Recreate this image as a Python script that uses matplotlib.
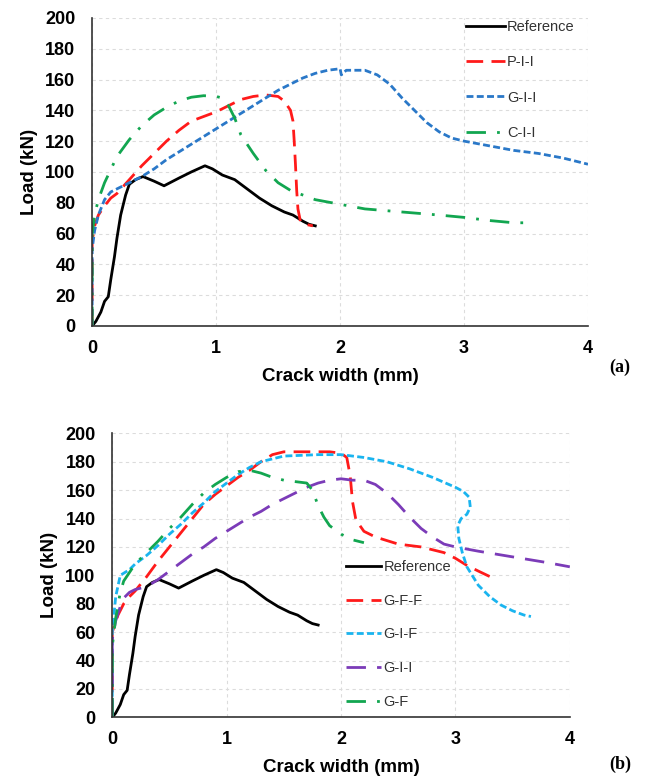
import matplotlib.pyplot as plt

plt.rcParams['font.family'] = ['Liberation Sans', 'DejaVu Sans']

# --- data: crack width (mm) vs load (kN) ---
ref_x = [0, 0.03, 0.07, 0.1, 0.13, 0.15, 0.18, 0.2, 0.23, 0.27, 0.3, 0.35, 0.41,
         0.5, 0.58, 0.7, 0.8, 0.91, 0.97, 1.05, 1.15, 1.25, 1.35, 1.45, 1.55,
         1.62, 1.7, 1.75, 1.8]
ref_y = [0, 3, 9, 16, 19, 30, 45, 57, 72, 85, 92, 95, 97,
         94, 91, 96, 100, 104, 102, 98, 95, 89, 83, 78, 74,
         72, 68, 66, 65]

pii_x = [0, 0.0, 0.02, 0.05, 0.1, 0.15, 0.2, 0.3, 0.4, 0.5, 0.6, 0.7, 0.8, 0.9,
         1.0, 1.1, 1.2, 1.3, 1.4, 1.5, 1.55, 1.6, 1.62, 1.63, 1.64, 1.65, 1.66,
         1.68, 1.72, 1.78]
pii_y = [0, 55, 65, 72, 78, 83, 86, 95, 104, 112, 120, 127, 133, 136,
         139, 143, 147, 149, 150, 149, 146, 140, 133, 120, 105, 88, 76,
         68, 66, 65]

gii_x = [0, 0.0, 0.02, 0.05, 0.1, 0.15, 0.2, 0.3, 0.4, 0.5, 0.6, 0.7, 0.8, 0.9,
         1.0, 1.1, 1.2, 1.3, 1.4, 1.5, 1.6, 1.7, 1.8, 1.9, 2.0, 2.01, 2.05,
         2.2, 2.3, 2.4, 2.5, 2.6, 2.7, 2.8, 2.9, 3.0, 3.2, 3.4, 3.6, 3.8, 4.0]
gii_y = [0, 50, 62, 72, 82, 87, 89, 93, 97, 102, 108, 113, 118, 123,
         128, 133, 138, 143, 148, 153, 157, 161, 164, 166, 167, 163, 166,
         166, 163, 157, 148, 140, 132, 126, 122, 120, 117, 114, 112, 109, 105]

cii_x = [0, 0.0, 0.02, 0.05, 0.1, 0.2, 0.3, 0.4, 0.5, 0.6, 0.7, 0.8, 0.9, 1.0,
         1.05, 1.1, 1.15, 1.2, 1.3, 1.4, 1.5, 1.6, 1.7, 1.8, 2.0, 2.2, 2.5,
         2.8, 3.0, 3.2, 3.4, 3.5]
cii_y = [0, 60, 72, 82, 93, 110, 121, 130, 137, 142, 146, 148.5, 149.5, 149,
         148, 143, 135, 124, 112, 101, 93, 88, 85, 82, 79, 76, 74,
         72, 70.5, 68.5, 67, 67]

gff_x = [0, 0.0, 0.05, 0.1, 0.15, 0.2, 0.3, 0.4, 0.5, 0.6, 0.7, 0.8, 0.9, 1.0,
         1.1, 1.2, 1.3, 1.4, 1.5, 1.7, 1.9, 2.0, 2.05, 2.08, 2.1, 2.13, 2.2,
         2.3, 2.5, 2.7, 2.9, 3.0, 3.1, 3.2, 3.33]
gff_y = [0, 60, 72, 80, 85, 89, 99, 110, 120, 130, 140, 150, 157, 163,
         169, 174, 180, 185, 187, 187, 187, 186, 183, 170, 152, 139, 131,
         127, 122, 120, 116, 112, 107, 103, 98]

gif_x = [0, 0.0, 0.03, 0.07, 0.15, 0.2, 0.3, 0.4, 0.5, 0.6, 0.7, 0.8, 0.9, 1.0,
         1.1, 1.2, 1.3, 1.5, 1.8, 2.0, 2.2, 2.4, 2.6, 2.8, 3.0, 3.07, 3.12,
         3.13, 3.1, 3.05, 3.02, 3.03, 3.06, 3.1, 3.2, 3.3, 3.4, 3.5, 3.6, 3.66]
gif_y = [0, 60, 85, 100, 104, 108, 114, 121, 129, 136, 144, 151, 159, 165,
         171, 176, 180, 184, 185, 185, 183, 180, 175, 169, 162, 159, 155,
         148, 143, 140, 135, 126, 116, 106, 93, 85, 79, 75, 72, 71]

gii2_x = [0, 0.0, 0.03, 0.07, 0.1, 0.15, 0.2, 0.3, 0.4, 0.5, 0.6, 0.7, 0.8, 0.9,
          1.0, 1.1, 1.2, 1.3, 1.4, 1.5, 1.6, 1.7, 1.8, 1.9, 2.0, 2.1, 2.2,
          2.3, 2.4, 2.5, 2.6, 2.7, 2.8, 2.9, 3.0, 3.2, 3.5, 3.8, 4.0]
gii2_y = [0, 55, 68, 78, 84, 88, 90, 92, 97, 103, 109, 115, 120, 126,
          131, 136, 141, 145, 150, 154, 158, 162, 165, 167, 168, 167, 167,
          164, 158, 150, 141, 133, 127, 122, 120, 117, 113, 109, 106]

gf_x = [0, 0.0, 0.03, 0.07, 0.1, 0.2, 0.3, 0.4, 0.5, 0.6, 0.7, 0.8, 0.9, 1.0,
        1.1, 1.2, 1.3, 1.4, 1.5, 1.6, 1.7, 1.75, 1.8, 1.85, 1.9, 2.0, 2.1, 2.2]
gf_y = [0, 50, 70, 88, 96, 108, 116, 124, 133, 141, 150, 158, 164, 169,
        173, 174, 172, 169, 167, 166, 165, 160, 149, 141, 135, 129, 125, 123]

top_series = [
    (ref_x, ref_y, 'Reference', 'black', '-'),
    (pii_x, pii_y, 'P-I-I', '#ff1a1a', (0, (6, 3))),
    (gii_x, gii_y, 'G-I-I', '#2a78c8', (0, (2.5, 1.2))),
    (cii_x, cii_y, 'C-I-I', '#12a650', (0, (7, 4, 1, 4))),
]
bottom_series = [
    (ref_x, ref_y, 'Reference', 'black', '-'),
    (gff_x, gff_y, 'G-F-F', '#ff1a1a', (0, (6, 3))),
    (gif_x, gif_y, 'G-I-F', '#1ab4ef', (0, (2.5, 1.2))),
    (gii2_x, gii2_y, 'G-I-I', '#7b3bb8', (0, (7, 4))),
    (gf_x, gf_y, 'G-F', '#12a650', (0, (7, 4, 1, 4))),
]


def style_axes(ax):
    ax.set_xlim(0, 4)
    ax.set_ylim(0, 200)
    ax.set_xticks(range(0, 5))
    ax.set_yticks(range(0, 201, 20))
    ax.grid(True, color='#dcdcdc', linestyle=(0, (3, 3)), linewidth=0.8)
    ax.set_axisbelow(True)
    for side in ('top', 'right'):
        ax.spines[side].set_visible(False)
    for side in ('left', 'bottom'):
        ax.spines[side].set_color('#333333')
        ax.spines[side].set_linewidth(1.2)
    ax.tick_params(axis='y', length=0, pad=12, labelsize=13)
    ax.tick_params(axis='x', length=0, pad=10, labelsize=13)
    for lbl in ax.get_xticklabels() + ax.get_yticklabels():
        lbl.set_fontweight('bold')
    ax.set_xlabel('Crack width (mm)', fontsize=13.5, fontweight='bold', labelpad=8)
    ax.set_ylabel('Load (kN)', fontsize=13.5, fontweight='bold', labelpad=5)


fig = plt.figure(figsize=(6.49, 7.78), dpi=100)
ax1 = fig.add_axes([0.142, 0.581, 0.764, 0.396])
ax2 = fig.add_axes([0.173, 0.078, 0.705, 0.365])

for ax, series in ((ax1, top_series), (ax2, bottom_series)):
    for x, y, name, color, ls in series:
        ax.plot(x, y, color=color, linestyle=ls, linewidth=2, label=name)
    style_axes(ax)

ax1.legend(loc='upper right', bbox_to_anchor=(1.0, 1.035), frameon=False,
           fontsize=10.5, handlelength=2.7, handletextpad=0.15, labelspacing=1.45,
           labelcolor='#333333')
ax2.legend(loc='center left', bbox_to_anchor=(0.483, 0.292), frameon=False,
           fontsize=10.5, handlelength=2.4, handletextpad=0.15, labelspacing=1.35,
           labelcolor='#333333')

fig.text(0.955, 0.528, '(a)', family='Liberation Serif', fontweight='bold', fontsize=13,
         ha='center', va='center')
fig.text(0.955, 0.018, '(b)', family='Liberation Serif', fontweight='bold', fontsize=13,
         ha='center', va='center')

fig.savefig('out.png', dpi=100)
